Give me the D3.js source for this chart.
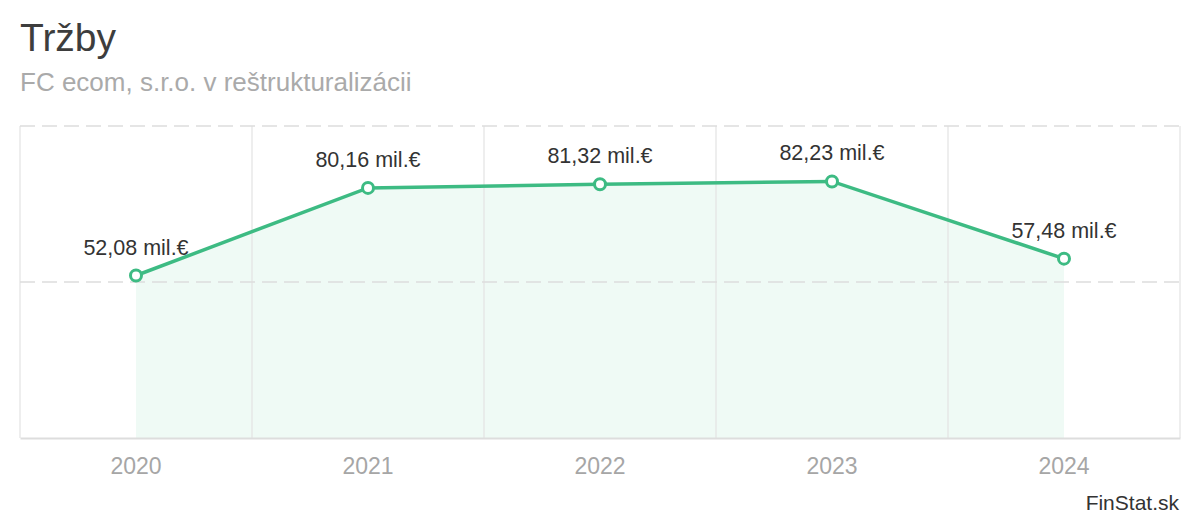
<!DOCTYPE html>
<html>
<head>
<meta charset="utf-8">
<script src="https://cdn.jsdelivr.net/npm/d3@7"></script>
<style>
  html, body { margin: 0; padding: 0; background: #fff; }
  svg { display: block; font-family: "Liberation Sans", Arial, Helvetica, sans-serif; }
</style>
</head>
<body>
<svg id="chart" width="1200" height="520"></svg>
<script>
const years = ["2020", "2021", "2022", "2023", "2024"];
const revenue = [52.08, 80.16, 81.32, 82.23, 57.48];
const valueLabels = ["52,08 mil.€", "80,16 mil.€", "81,32 mil.€", "82,23 mil.€", "57,48 mil.€"];
const yTicks = [50, 100];
const titleText = "Tržby";
const subtitleText = "FC ecom, s.r.o. v reštrukturalizácii";
const creditText = "FinStat.sk";

(function () {
const svg = d3.select("#chart");
const pLeft = 20, pRight = 1180, pTop = 126, pBottom = 438;

const x = d3.scaleBand().domain(years).range([pLeft, pRight]).padding(0);
const y = d3.scaleLinear().domain([0, 100]).range([pBottom, pTop]);
const cx = d => x(d) + x.bandwidth() / 2;

// Title
svg.append("text").attr("x", 20).attr("y", 51).attr("font-size", 39).attr("fill", "#3d3d3d").text(titleText);
svg.append("text").attr("x", 20).attr("y", 91).attr("font-size", 26).attr("fill", "#aaaaaa").text(subtitleText);

// Area
const data = years.map((yr, i) => ({ yr, v: revenue[i], label: valueLabels[i] }));
svg.append("path")
  .datum(data)
  .attr("fill", "#effaf5")
  .attr("d", d3.area().x(d => cx(d.yr)).y0(y(0)).y1(d => y(d.v)));

// Vertical grid lines (band boundaries)
const bounds = years.map(d => x(d)).concat([x(years[years.length - 1]) + x.bandwidth()]);
svg.append("g").selectAll("line").data(bounds).join("line")
  .attr("x1", d => d).attr("x2", d => d)
  .attr("y1", pTop).attr("y2", pBottom)
  .attr("stroke", "#e3e3e3").attr("stroke-width", 1.2);

// Horizontal dashed grid lines
svg.append("g").selectAll("line").data(yTicks).join("line")
  .attr("x1", pLeft).attr("x2", pRight)
  .attr("y1", d => y(d)).attr("y2", d => y(d))
  .attr("stroke", "#dddddd").attr("stroke-width", 1.5)
  .attr("stroke-dasharray", "15,7");

// Baseline axis
const xAxis = d3.axisBottom(x).tickSize(0).tickPadding(20);
const gx = svg.append("g").attr("transform", `translate(0,${pBottom})`).call(xAxis);
gx.select(".domain").attr("stroke", "#dddddd").attr("stroke-width", 2);
gx.selectAll("text").attr("font-size", 23).attr("fill", "#a6a6a6")
  .attr("font-family", "Liberation Sans, Arial, sans-serif").attr("dy", "0.71em");

// Line
svg.append("path")
  .datum(data)
  .attr("fill", "none")
  .attr("stroke", "#3dbb83")
  .attr("stroke-width", 3.5)
  .attr("d", d3.line().x(d => cx(d.yr)).y(d => y(d.v)));

// Points
svg.append("g").selectAll("circle").data(data).join("circle")
  .attr("cx", d => cx(d.yr)).attr("cy", d => y(d.v))
  .attr("r", 5.5)
  .attr("fill", "#ffffff").attr("stroke", "#3dbb83").attr("stroke-width", 3);

// Value labels
svg.append("g").selectAll("text").data(data).join("text")
  .attr("x", d => cx(d.yr)).attr("y", d => y(d.v) - 21)
  .attr("text-anchor", "middle")
  .attr("font-size", 21.5).attr("fill", "#333333")
  .text(d => d.label);

// Credit
svg.append("text").attr("x", 1179).attr("y", 510).attr("text-anchor", "end")
  .attr("font-size", 21).attr("fill", "#333333").text(creditText);
})();
</script>
</body>
</html>
